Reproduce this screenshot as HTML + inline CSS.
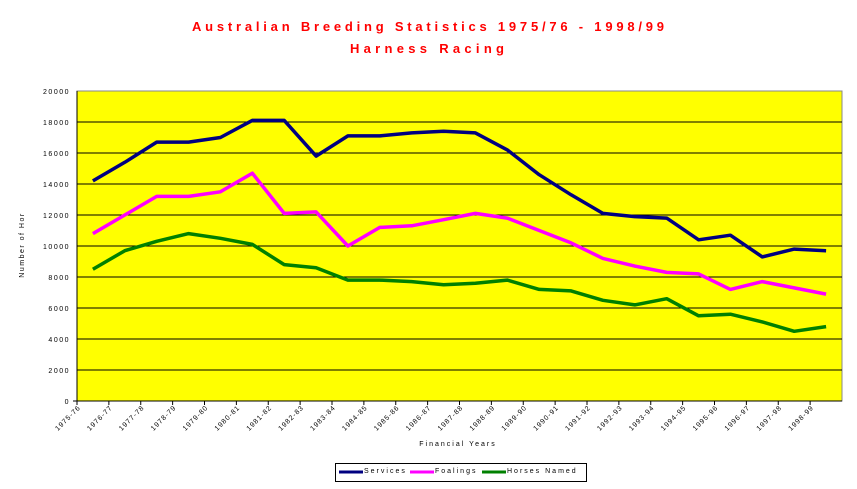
<!DOCTYPE html>
<html><head><meta charset="utf-8"><style>body{margin:0;background:#fff}svg{display:block}</style></head><body>
<svg width="857" height="489" xmlns="http://www.w3.org/2000/svg" font-family="Liberation Sans, sans-serif">
<text x="428" y="31" text-anchor="middle" fill="#ff0000" font-weight="bold" font-size="13" textLength="472" lengthAdjust="spacing">Australian Breeding Statistics 1975/76 - 1998/99</text>
<text x="427" y="53" text-anchor="middle" fill="#ff0000" font-weight="bold" font-size="13" textLength="154" lengthAdjust="spacing">Harness Racing</text>
<rect x="77" y="91" width="765" height="310" fill="#ffff00" stroke="#888" stroke-width="1"/>
<g stroke="#000" stroke-width="1">
<line x1="77" y1="122" x2="842" y2="122"/><line x1="77" y1="153" x2="842" y2="153"/><line x1="77" y1="184" x2="842" y2="184"/><line x1="77" y1="215" x2="842" y2="215"/><line x1="77" y1="246" x2="842" y2="246"/><line x1="77" y1="277" x2="842" y2="277"/><line x1="77" y1="308" x2="842" y2="308"/><line x1="77" y1="339" x2="842" y2="339"/><line x1="77" y1="370" x2="842" y2="370"/>
<line x1="77" y1="91" x2="77" y2="401"/><line x1="73" y1="401" x2="842" y2="401"/>
</g>
<g font-size="7" text-anchor="end" fill="#000" letter-spacing="1.5">
<text x="70" y="94">20000</text><text x="70" y="125">18000</text><text x="70" y="156">16000</text><text x="70" y="187">14000</text><text x="70" y="218">12000</text><text x="70" y="249">10000</text><text x="70" y="280">8000</text><text x="70" y="311">6000</text><text x="70" y="342">4000</text><text x="70" y="373">2000</text><text x="70" y="404">0</text>
</g>
<g id="xt" font-size="7" text-anchor="end" fill="#000" letter-spacing="1"></g>
<text transform="translate(24,245) rotate(-90)" font-size="7" text-anchor="middle" letter-spacing="1.5">Number of Hor</text>
<text x="458" y="446" font-size="7" text-anchor="middle" letter-spacing="2">Financial Years</text>
<rect x="335.5" y="463.5" width="251" height="18" fill="#fff" stroke="#000"/>
<line x1="339" y1="472" x2="363" y2="472" stroke="#000080" stroke-width="3"/>
<text x="364" y="473" font-size="7" letter-spacing="2">Services</text>
<line x1="410" y1="472" x2="434" y2="472" stroke="#ff00ff" stroke-width="3"/>
<text x="435" y="473" font-size="7" letter-spacing="2">Foalings</text>
<line x1="482" y1="472" x2="506" y2="472" stroke="#008000" stroke-width="3"/>
<text x="507" y="473" font-size="7" letter-spacing="2">Horses Named</text>
<g id="lines" fill="none" stroke-width="3.5" stroke-linejoin="round"></g>
</svg>
<script>
var S=[14200,15400,16700,16700,17000,18100,18100,15800,17100,17100,17300,17400,17300,16200,14600,13300,12100,11900,11800,10400,10700,9300,9800,9700];
var F=[10800,12000,13200,13200,13500,14700,12100,12200,10000,11200,11300,11700,12100,11800,11000,10200,9200,8700,8300,8200,7200,7700,7300,6900];
var H=[8500,9700,10300,10800,10500,10100,8800,8600,7800,7800,7700,7500,7600,7800,7200,7100,6500,6200,6600,5500,5600,5100,4500,4800];
var ns="http://www.w3.org/2000/svg",g=document.getElementById('lines');
function px(i){return 77+(i+0.5)*31.875}function py(v){return 401-v*310/20000}
[[H,'#008000'],[F,'#ff00ff'],[S,'#000080']].forEach(function(a){var p=document.createElementNS(ns,'polyline');p.setAttribute('points',a[0].map(function(v,i){return px(i).toFixed(1)+','+py(v).toFixed(1)}).join(' '));p.setAttribute('stroke',a[1]);g.appendChild(p);});
var xt=document.getElementById('xt');
for(var i=0;i<24;i++){var y=1975+i;var lab=y+'-'+String((y+1)%100).padStart(2,'0');var x=77+i*31.875+1;
var l=document.createElementNS(ns,'line');l.setAttribute('x1',77+i*31.875);l.setAttribute('x2',77+i*31.875);l.setAttribute('y1',401);l.setAttribute('y2',405);l.setAttribute('stroke','#000');document.querySelector('svg').appendChild(l);
var t=document.createElementNS(ns,'text');t.setAttribute('transform','translate('+(x+3)+',408) rotate(-45)');t.textContent=lab;xt.appendChild(t);}
</script>
</body></html>
